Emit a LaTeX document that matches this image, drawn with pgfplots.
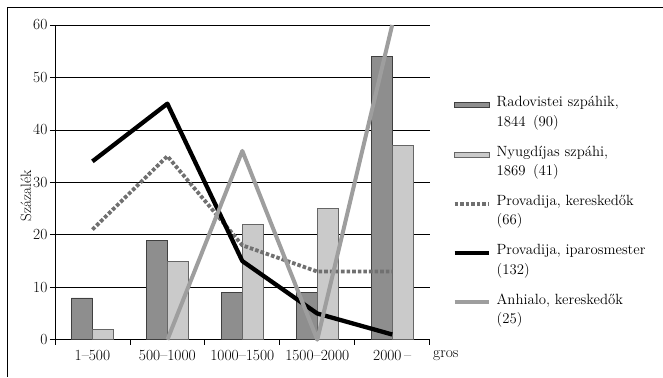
\documentclass[border=0pt]{standalone}
\usepackage{fontspec}
\usepackage{pgfplots}
\pgfplotsset{compat=1.18}
\definecolor{bardark}{HTML}{8E8E8E}
\definecolor{barlight}{HTML}{CACACA}
\definecolor{dotgray}{HTML}{707070}
\definecolor{linegray}{HTML}{9E9E9E}
\pgfplotsset{
  lineleg/.style={legend image code/.code={\draw[##1] (0pt,7pt) -- (35pt,7pt);}},
  barleg/.style={legend image code/.code={\draw[##1, bar shift=0pt] (0pt,4.5pt) rectangle (35pt,9.5pt);}},
}
\begin{document}
\begin{tikzpicture}[x=1pt,y=1pt]
\path (0,0) rectangle (663,377);
\draw[line width=1pt] (8,0) -- (8,369) -- (663,369);
\begin{axis}[
  at={(55pt,37pt)}, anchor=south west,
  scale only axis, width=375pt, height=315pt,
  xmin=0.5, xmax=5.5, ymin=0, ymax=60,
  ytick={0,10,...,60},
  xtick={1,...,5},
  xticklabels={1--500, 500--1000, 1000--1500, 1500--2000, 2000\,--},
  minor xtick={0.5,1.5,...,5.5},
  major x tick style={draw=none},
  tick align=outside,
  major tick length=5pt, minor tick length=5pt,
  tick style={black, line width=0.8pt},
  axis x line*=bottom, axis y line*=left,
  axis line style={-, line width=0.8pt},
  ymajorgrids, grid style={black, line width=0.7pt},
  tick label style={font=\fontsize{15.5}{17}\selectfont},
  /pgf/number format/assume math mode=true,
  xticklabel style={yshift=-1.5pt},
  yticklabel style={xshift=1pt},
  ylabel={Százalék},
  every axis y label/.style={at={(axis description cs:-0.077,0.457)}, rotate=90, anchor=center, font=\fontsize{15}{17}\selectfont},
  ybar=0pt, bar width=21pt,
  clip=false,
  legend style={at={(1.06,0.78)}, anchor=north west, draw=none, fill=none,
    font=\fontsize{14.8}{19.5}\selectfont, cells={align=left, anchor=west},
    row sep=14pt, inner sep=0pt, column sep=3pt},
  legend cell align=left,
]
\addplot[fill=bardark, draw=black!75, line width=0.5pt, bar shift=-10.5pt, barleg]
  coordinates {(1,8) (2,19) (3,9) (4,9) (5,54)};
\addlegendentry{Radovistei szpáhik,\\1844\enspace(90)}
\addplot[fill=barlight, draw=black!60, line width=0.5pt, bar shift=10.5pt, barleg]
  coordinates {(1,2) (2,15) (3,22) (4,25) (5,37)};
\addlegendentry{Nyugdíjas szpáhi,\\1869\enspace(41)}
\addplot[sharp plot, dotgray, line width=3.8pt, dash pattern=on 3.6pt off 2pt, lineleg]
  coordinates {(1,21) (2,35) (3,18) (4,13) (5,13)};
\addlegendentry{Provadija, kereskedők\\(66)}
\addplot[sharp plot, black, line width=4.3pt, line join=round, lineleg]
  coordinates {(1,34) (2,45) (3,15) (4,5) (5,1)};
\addlegendentry{Provadija, iparosmester\\(132)}
\addplot[sharp plot, linegray, line width=4pt, line join=round, lineleg]
  coordinates {(2,0) (3,36) (4,0) (5,60)};
\addlegendentry{Anhialo, kereskedők\\(25)}
\node[anchor=west, font=\fontsize{15.5}{17}\selectfont] at (rel axis cs:1,0) [yshift=-16pt, xshift=0pt] {gros};
\end{axis}
\end{tikzpicture}
\end{document}
